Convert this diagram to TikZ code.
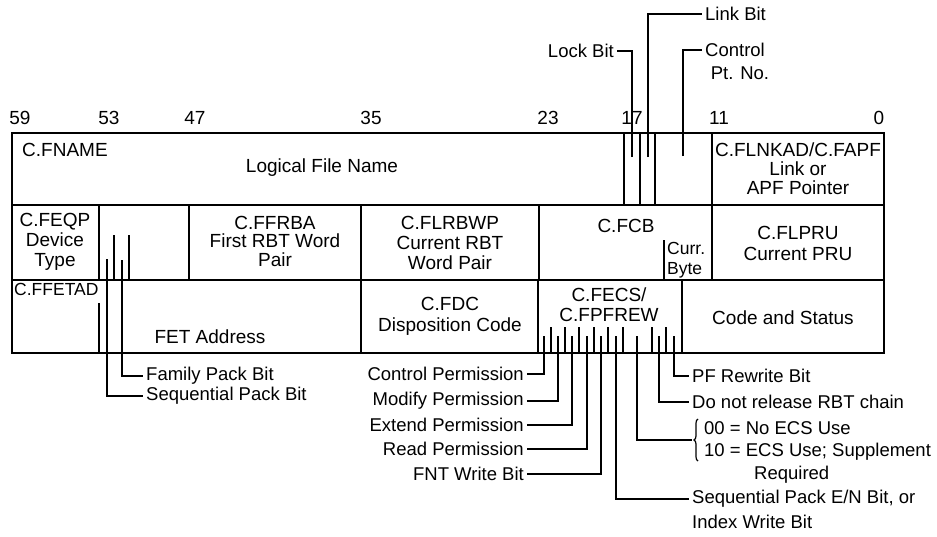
\documentclass[tikz,border=0pt]{standalone}
\usepackage{fontspec}
\setmainfont{Liberation Sans}
\usetikzlibrary{decorations.pathreplacing}
\begin{document}
\begin{tikzpicture}[x=1pt,y=-1pt,
  frame/.style={line width=1.8pt},
  rule/.style={line width=1.5pt},
  lead/.style={line width=1.5pt},
  txt/.style={inner sep=0pt, font=\fontsize{19}{20}\selectfont, align=center},
  lbl/.style={inner sep=3pt, font=\fontsize{18.5}{20}\selectfont},
]
\useasboundingbox (0,0) rectangle (937,536);

% bit numbers
\node[txt] (b59) at (20,118) {59};
\node[txt] (b53) at (109,118) {53};
\node[txt] (b47) at (195,118) {47};
\node[txt] (b35) at (371,118) {35};
\node[txt] (b23) at (548,118) {23};
\node[txt] (b17) at (632,118) {17};
\node[txt] (b11) at (719,118) {11};
\node[txt] (b0)  at (879,118) {0};

% frame and rows
\draw[frame] (12,133) rectangle (884,353);
\draw[frame] (12,205) -- (884,205);
\draw[frame] (12,280) -- (884,280);

% row 1 verticals
\draw[rule] (712,133) -- (712,205);
\draw[rule] (624,133) -- (624,205);
\draw[rule] (640,133) -- (640,205);
\draw[rule] (655,133) -- (655,205);

% row 2 verticals
\foreach \x in {99,189,361,539,712} \draw[rule] (\x,205) -- (\x,280);
\draw[rule] (664,240) -- (664,280);
\draw[rule] (114,235) -- (114,280);
\draw[rule] (129,235) -- (129,280);

% row 3 verticals
\foreach \x in {361,538,682} \draw[rule] (\x,280) -- (\x,353);
\draw[rule] (99,303) -- (99,353);
\foreach \x in {551,565,579,594,608,623,652,666} \draw[rule] (\x,327) -- (\x,353);

% cell texts
\node[txt,anchor=west] (fname) at (22,150) {C.FNAME};
\node[txt] (lfn) at (322,168) {Logical File Name};
\node[txt,font=\fontsize{19}{19}\selectfont] (flnkad) at (798,169) {C.FLNKAD/C.FAPF\\Link or\\APF Pointer};

\node[txt] (feqp) at (55,242) {C.FEQP\\Device\\Type};
\node[txt,font=\fontsize{19}{18.5}\selectfont] (ffrba) at (275,241) {C.FFRBA\\First RBT Word\\Pair};
\node[txt] (flrbwp) at (450,243) {C.FLRBWP\\Current RBT\\Word Pair};
\node[txt] (fcb) at (626,226) {C.FCB};
\node[txt,anchor=west,align=left,font=\fontsize{17.5}{20}\selectfont] (curr) at (667,260) {Curr.\\Byte};
\node[txt,font=\fontsize{19}{21}\selectfont] (flpru) at (798,243) {C.FLPRU\\Current PRU};

\node[txt,anchor=west,font=\fontsize{17.5}{20}\selectfont] (ffetad) at (14,289) {C.FFETAD};
\node[txt] (fetaddr) at (210,337) {FET Address};
\node[txt,font=\fontsize{19}{21}\selectfont] (fdc) at (450,316) {C.FDC\\Disposition Code};
\node[txt] (fecs) at (609,305) {C.FECS/\\C.FPFREW};
\node[txt] (codestat) at (783,318) {Code and Status};

% top labels
\node[lbl,anchor=east] (lock) at (617,51) {Lock Bit};
\node[lbl,anchor=west] (link) at (702,14) {Link Bit};
\node[lbl,anchor=west] (ctrl) at (702,50) {Control};
\node[txt,font=\fontsize{18.5}{20}\selectfont] (ptno) at (740,73) {Pt. No.};
\coordinate (tlock) at (632,157);
\coordinate (tlink) at (648,157);
\coordinate (tctrl) at (683,156);
\draw[lead] (tlock) |- (lock.east);
\draw[lead] (tlink) |- (link.west);
\draw[lead] (tctrl) |- (ctrl.west);

% left bottom labels
\node[lbl,anchor=west] (fam) at (143,376) {Family Pack Bit};
\node[lbl,anchor=west] (seq) at (143,396) {Sequential Pack Bit};
\coordinate (tfam) at (122,260);
\coordinate (tseq) at (107,259);
\draw[lead] (tfam) |- (fam.west);
\draw[lead] (tseq) |- (seq.west);

% permission labels
\node[lbl,anchor=east] (cperm) at (527,374) {Control Permission};
\node[lbl,anchor=east] (mperm) at (527,401) {Modify Permission};
\node[lbl,anchor=east] (eperm) at (527,425) {Extend Permission};
\node[lbl,anchor=east] (rperm) at (527,449) {Read Permission};
\node[lbl,anchor=east] (fnt) at (527,474) {FNT Write Bit};
\coordinate (tc) at (544,336);
\coordinate (tm) at (558,336);
\coordinate (te) at (572,336);
\coordinate (tr) at (587,336);
\coordinate (tf) at (601,336);
\draw[lead] (tc) |- (cperm.east);
\draw[lead] (tm) |- (mperm.east);
\draw[lead] (te) |- (eperm.east);
\draw[lead] (tr) |- (rperm.east);
\draw[lead] (tf) |- (fnt.east);

% right labels
\node[lbl,anchor=west] (pfrw) at (689,376) {PF Rewrite Bit};
\node[lbl,anchor=west] (dnr) at (689,402) {Do not release RBT chain};
\node[lbl,anchor=west] (ecs0) at (701,428) {00 = No ECS Use};
\node[lbl,anchor=west] (ecs1) at (701,452) {10 = ECS Use; Supplement};
\node[lbl,anchor=west] (req) at (751,475) {Required};
\node[lbl,anchor=west] (seqen) at (689,499) {Sequential Pack E/N Bit, or};
\node[lbl,anchor=west] (idx) at (689,522) {Index Write Bit};
\draw[line width=1.2pt,decorate,decoration={brace,amplitude=4pt}] (698,461) -- (698,419);
\coordinate (brtip) at (692,440);
\coordinate (tpf) at (674,336);
\coordinate (tdn) at (659,336);
\coordinate (tbr) at (637,336);
\coordinate (tsq) at (616,336);
\draw[lead] (tpf) |- (pfrw.west);
\draw[lead] (tdn) |- (dnr.west);
\draw[lead] (tbr) |- (brtip);
\draw[lead] (tsq) |- (seqen.west);
\end{tikzpicture}
\end{document}
